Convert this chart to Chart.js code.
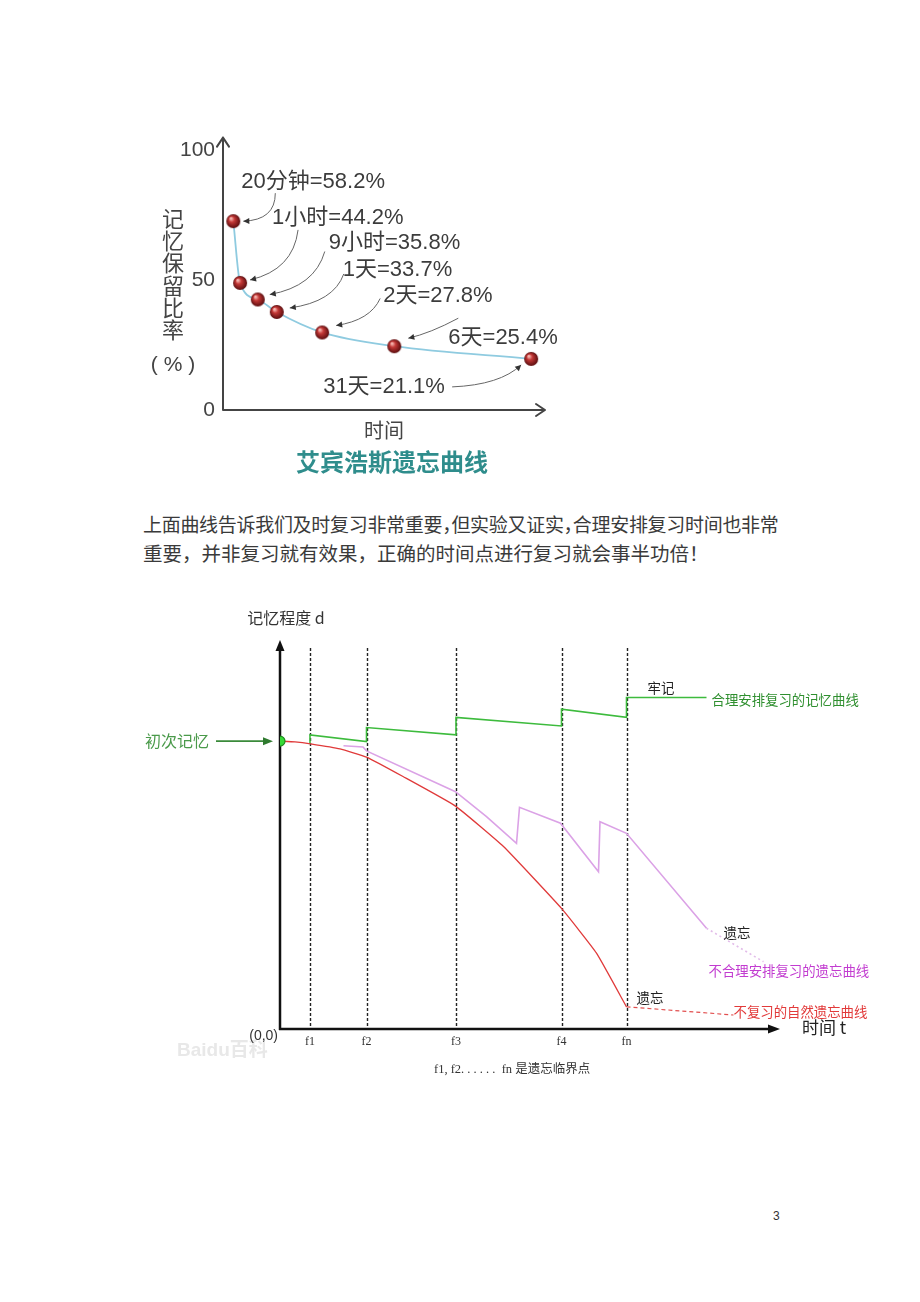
<!DOCTYPE html>
<html>
<head>
<meta charset="utf-8">
<script src="https://cdn.jsdelivr.net/npm/chart.js@4.4.1/dist/chart.umd.min.js"></script>
<style>
    body { margin: 0; background: #fff; }
    #page { position: relative; width: 920px; height: 1302px; overflow: hidden; font-family: 'Noto Sans CJK SC', sans-serif; color: #3a3a3a; }
    #curve1 { position: absolute; left: 130px; top: 130px; }
    #curve2 { position: absolute; left: 130px; top: 600px; }
    .line { position: absolute; white-space: nowrap; }
    .half { font-feature-settings: "halt"; }
</style>
</head>
<body>
<div id="page">
    <canvas id="curve1" width="440" height="360"></canvas>
    <div class="line" style="left:143px;top:513px;font-size:19px;line-height:22px;letter-spacing:-0.3px">上面曲线告诉我们及时复习非常重要<span class="half">，</span>但实验又证实<span class="half">，</span>合理安排复习时间也非常</div>
    <div class="line" style="left:143px;top:542px;font-size:19.5px;line-height:22px">重要，并非复习就有效果，正确的时间点进行复习就会事半功倍！</div>
    <canvas id="curve2" width="760" height="490"></canvas>
    <div class="line" style="left:773px;top:1209px;font-size:12px;font-family:'Liberation Sans',sans-serif;color:#333">3</div>
</div>
<script>
// --- Ebbinghaus curve (x = place on the time axis, 0-100; y = % as drawn) ---
const retentionLabels = ['20分钟=58.2%', '1小时=44.2%', '9小时=35.8%', '1天=33.7%', '2天=27.8%', '6天=25.4%', '31天=21.1%'];
const retentionX = [3.2, 5.3, 10.8, 16.7, 30.8, 53.2, 95.7];
const retentionY = [72.8, 49.0, 42.6, 37.8, 29.9, 24.6, 19.7];
const retentionTicks = [0, 50, 100];

// --- review chart (x = time, y = memory level d) ---
const reviewLabels = ['f1', 'f2', 'f3', 'f4', 'fn'];
const reviewX = [6.0, 17.3, 35.2, 56.3, 69.3];
const firstX = [0];
const firstY = [74.0];
const planX = [6.0, 6.0, 17.3, 17.3, 35.2, 35.2, 56.3, 56.3, 69.3, 69.3, 85.3];
const planY = [73.3, 75.6, 73.9, 77.5, 75.6, 80.1, 77.9, 82.2, 80.1, 85.2, 85.2];
const naturalX = [0, 3.0, 6.1, 12.0, 17.3, 24.6, 35.1, 44.7, 56.3, 63.3, 69.3];
const naturalY = [74.0, 73.8, 73.3, 72.0, 69.9, 64.9, 57.3, 46.9, 31.0, 19.5, 5.7];
const naturalTailX = [69.3, 90.7];
const naturalTailY = [5.7, 3.6];
const badX = [12.7, 16.6, 17.3, 35.1, 41.3, 47.3, 47.9, 56.1, 63.7, 64.0, 69.3, 85.3];
const badY = [72.8, 72.5, 71.5, 61.0, 54.6, 47.7, 57.0, 52.9, 40.4, 53.3, 50.3, 25.9];
const badTailX = [85.3, 96.7];
const badTailY = [25.9, 17.3];

// callout placement, px offsets from each point: label, arrow tail, curve control, arrow tip
const callouts = [
    { label: [8, -39], tail: [42, -28], ctrl: [42, -1], tip: [10, 0] },
    { label: [32, -65], tail: [58, -53], ctrl: [53, -13], tip: [10, -3] },
    { label: [71, -57], tail: [67, -48], ctrl: [57, -13], tip: [12, -5] },
    { label: [66, -42], tail: [67, -38], ctrl: [57, -10], tip: [13, -4] },
    { label: [61, -37], tail: [58, -34], ctrl: [48, -12], tip: [14, -7] },
    { label: [54, -8], tail: [64, -28], ctrl: [36, -13], tip: [14, -8] },
    { label: [-208, 28], tail: [-79, 28], ctrl: [-31, 26], tip: [-10, 6] }
];

const sansFont = "'Liberation Sans', 'Noto Sans CJK SC', sans-serif";
const cjkFont = "'Noto Sans CJK SC', sans-serif";

const pts = (xs, ys) => xs.map((x, i) => ({ x, y: ys[i] }));

function makeSphere(r) {
    const c = document.createElement('canvas');
    c.width = c.height = r * 2 + 2;
    const g = c.getContext('2d');
    const m = r + 1;
    const grad = g.createRadialGradient(m - r * 0.35, m - r * 0.4, r * 0.1, m, m, r);
    grad.addColorStop(0, '#f6b8b2');
    grad.addColorStop(0.35, '#c43836');
    grad.addColorStop(1, '#5a0c0e');
    g.fillStyle = grad;
    g.beginPath();
    g.arc(m, m, r, 0, Math.PI * 2);
    g.fill();
    return c;
}

function triangle(ctx, x, y, angle, len, half) {
    ctx.save();
    ctx.translate(x, y);
    ctx.rotate(angle);
    ctx.beginPath();
    ctx.moveTo(0, 0);
    ctx.lineTo(-len, -half);
    ctx.lineTo(-len, half);
    ctx.closePath();
    ctx.fill();
    ctx.restore();
}

function text(ctx, str, x, y, font, color, align) {
    ctx.font = font;
    ctx.fillStyle = color;
    ctx.textAlign = align || 'left';
    ctx.textBaseline = 'middle';
    ctx.fillText(str, x, y);
}

const ebbinghausDecor = {
    id: 'ebbinghausDecor',
    beforeDatasetsDraw(chart) {
        const { ctx, chartArea: a, scales: { x, y } } = chart;
        const x0 = x.getPixelForValue(0), y0 = y.getPixelForValue(0);
        ctx.save();
        ctx.strokeStyle = '#444';
        ctx.lineWidth = 2;
        ctx.lineCap = 'round';
        ctx.lineJoin = 'round';
        ctx.beginPath();
        ctx.moveTo(x0, y0); ctx.lineTo(x0, a.top - 13);
        ctx.moveTo(x0, y0); ctx.lineTo(a.right, y0);
        ctx.moveTo(x0 - 6, a.top - 4); ctx.lineTo(x0, a.top - 13); ctx.lineTo(x0 + 6, a.top - 4);
        ctx.moveTo(a.right - 9, y0 - 6); ctx.lineTo(a.right, y0); ctx.lineTo(a.right - 9, y0 + 6);
        ctx.stroke();
        ctx.restore();
    },
    afterDraw(chart) {
        const { ctx, chartArea: a } = chart;
        const meta = chart.getDatasetMeta(0);
        ctx.save();
        // axis titles
        const yTitle = '记忆保留比率';
        for (let i = 0; i < yTitle.length; i++) {
            text(ctx, yTitle[i], a.left - 50, a.top + 68 + i * 22.2, '22px ' + cjkFont, '#444', 'center');
        }
        text(ctx, '( % )', a.left - 50, a.top + 215, '21px ' + sansFont, '#444', 'center');
        text(ctx, '时间', (a.left + a.right) / 2, a.bottom + 20, '20px ' + cjkFont, '#444', 'center');
        text(ctx, '艾宾浩斯遗忘曲线', (a.left + a.right) / 2 + 8, a.bottom + 52, 'bold 24px ' + cjkFont, '#2f8d8c', 'center');

        // callouts
        meta.data.forEach((pt, i) => {
            const c = callouts[i];
            text(ctx, retentionLabels[i], pt.x + c.label[0], pt.y + c.label[1], '22px ' + sansFont, '#3c3c3c');
            const tx = pt.x + c.tip[0], ty = pt.y + c.tip[1];
            const cx = pt.x + c.ctrl[0], cy = pt.y + c.ctrl[1];
            ctx.strokeStyle = '#666';
            ctx.fillStyle = '#333';
            ctx.lineWidth = 1;
            ctx.beginPath();
            ctx.moveTo(pt.x + c.tail[0], pt.y + c.tail[1]);
            ctx.quadraticCurveTo(cx, cy, tx, ty);
            ctx.stroke();
            triangle(ctx, tx, ty, Math.atan2(ty - cy, tx - cx), 6, 3);
        });
        ctx.restore();
    }
};

new Chart(document.getElementById('curve1'), {
    type: 'line',
    data: {
        datasets: [{
            data: pts(retentionX, retentionY),
            borderColor: '#8fcbe0',
            borderWidth: 1.8,
            cubicInterpolationMode: 'monotone',
            pointStyle: makeSphere(7),
            clip: false
        }]
    },
    options: {
        responsive: false,
        animation: false,
        events: [],
        layout: { padding: { left: 0, top: 20, right: 25, bottom: 0 } },
        plugins: { legend: { display: false }, tooltip: { enabled: false } },
        scales: {
            x: {
                type: 'linear', min: 0, max: 100,
                grid: { display: false, drawTicks: false },
                border: { display: false },
                ticks: { display: false },
                afterFit(s) { s.height = 80; }
            },
            y: {
                type: 'linear', min: 0, max: 100,
                afterBuildTicks(s) { s.ticks = retentionTicks.map(v => ({ value: v })); },
                grid: { display: false, drawTicks: false },
                border: { display: false },
                ticks: { padding: 8, color: '#444', font: { family: sansFont, size: 21 } },
                afterFit(s) { s.width = 93; }
            }
        }
    },
    plugins: [ebbinghausDecor]
});

const reviewDecor = {
    id: 'reviewDecor',
    beforeDatasetsDraw(chart) {
        const { ctx, chartArea: a, scales: { x, y } } = chart;
        const x0 = x.getPixelForValue(0), y0 = y.getPixelForValue(0);
        ctx.save();
        // dotted lines at each review point
        ctx.strokeStyle = '#222';
        ctx.lineWidth = 1.4;
        ctx.setLineDash([3, 2]);
        reviewX.forEach(v => {
            const px = Math.round(x.getPixelForValue(v)) + 0.5;
            ctx.beginPath();
            ctx.moveTo(px, a.top + 8);
            ctx.lineTo(px, y0);
            ctx.stroke();
        });
        ctx.setLineDash([]);
        // axes
        ctx.strokeStyle = '#111';
        ctx.fillStyle = '#111';
        ctx.lineWidth = 2.5;
        ctx.beginPath();
        ctx.moveTo(x0, y0 + 1); ctx.lineTo(x0, a.top + 8);
        ctx.moveTo(x0 - 1, y0); ctx.lineTo(a.right - 8, y0);
        ctx.stroke();
        triangle(ctx, x0, a.top, -Math.PI / 2, 11, 4.5);
        triangle(ctx, a.right, y0, 0, 12, 4.5);
        ctx.restore();
    },
    afterDatasetsDraw(chart) {
        const { ctx, chartArea: a, scales: { x, y } } = chart;
        const x0 = x.getPixelForValue(0), y0 = y.getPixelForValue(0);
        const at = (xs, ys, i) => [x.getPixelForValue(xs[i]), y.getPixelForValue(ys[i])];
        const small = '13.4px ' + cjkFont;
        ctx.save();
        text(ctx, '记忆程度 d', x0 + 6, a.top - 22, '16px ' + cjkFont, '#333', 'center');
        text(ctx, 'Baidu百科', x0 - 103, y0 + 22, 'bold 19px ' + sansFont, '#e8e8e8');
        text(ctx, '(0,0)', x0 - 2, y0 + 7, '14px ' + sansFont, '#333', 'right');
        text(ctx, '时间 t', a.right + 22, y0 - 1, '17px ' + cjkFont, '#222');

        // first memory arrow
        const [fx, fy] = at(firstX, firstY, 0);
        text(ctx, '初次记忆', fx - 71, fy, '16px ' + cjkFont, '#4a9a4a', 'right');
        ctx.strokeStyle = '#3a8a3a';
        ctx.fillStyle = '#2f7a2f';
        ctx.lineWidth = 1.6;
        ctx.beginPath();
        ctx.moveTo(fx - 64, fy);
        ctx.lineTo(fx - 14, fy);
        ctx.stroke();
        triangle(ctx, fx - 7, fy, 0, 10, 4);

        // curve labels
        const [gx, gy] = at(planX, planY, planX.length - 2);
        text(ctx, '牢记', gx + 21, gy - 10, small, '#222');
        const [ex, ey] = at(planX, planY, planX.length - 1);
        text(ctx, '合理安排复习的记忆曲线', ex + 5, ey + 2, small, '#2f8f2f');
        const [bx, by] = at(badX, badY, badX.length - 1);
        text(ctx, '遗忘', bx + 17, by + 5, small, '#222');
        const [btx, bty] = at(badTailX, badTailY, 1);
        text(ctx, '不合理安排复习的遗忘曲线', btx - 55, bty + 9, small, '#c23cd0');
        const [nx, ny] = at(naturalX, naturalY, naturalX.length - 1);
        text(ctx, '遗忘', nx + 10, ny - 9, small, '#222');
        const [ntx, nty] = at(naturalTailX, naturalTailY, 1);
        text(ctx, '不复习的自然遗忘曲线', ntx, nty - 3, small, '#e23a3a');

        // footnote
        text(ctx, 'f1, f2. . . . . .  fn 是遗忘临界点', x.getPixelForValue(reviewX[2]) - 22, y0 + 41,
            "12.5px 'Liberation Serif', 'Noto Sans CJK SC', serif", '#333');
        ctx.restore();
    }
};

new Chart(document.getElementById('curve2'), {
    type: 'line',
    data: {
        datasets: [
            { data: pts(firstX, firstY), showLine: false, pointRadius: 5, pointBackgroundColor: '#36d936', pointBorderColor: '#1f8a1f', pointBorderWidth: 1.2 },
            { data: pts(naturalX, naturalY), borderColor: '#e03a3a', borderWidth: 1.3, tension: 0.12, pointRadius: 0 },
            { data: pts(naturalTailX, naturalTailY), borderColor: '#e25050', borderWidth: 1.2, borderDash: [4, 3], pointRadius: 0 },
            { data: pts(planX, planY), borderColor: '#3dbb3d', borderWidth: 1.6, tension: 0, pointRadius: 0 },
            { data: pts(badX, badY), borderColor: '#dba2e6', borderWidth: 1.6, tension: 0, pointRadius: 0 },
            { data: pts(badTailX, badTailY), borderColor: '#e2bce9', borderWidth: 1.6, borderDash: [2, 3], pointRadius: 0 }
        ]
    },
    options: {
        responsive: false,
        animation: false,
        events: [],
        layout: { padding: { left: 0, top: 40, right: 110, bottom: 0 } },
        plugins: { legend: { display: false }, tooltip: { enabled: false } },
        scales: {
            x: {
                type: 'linear', min: 0, max: 100,
                afterBuildTicks(s) { s.ticks = reviewX.map(v => ({ value: v })); },
                grid: { display: false, drawTicks: false },
                border: { display: false },
                ticks: {
                    padding: 6, autoSkip: false, maxRotation: 0, color: '#333',
                    font: { family: "'Liberation Serif', serif", size: 12 },
                    callback: (v, i) => reviewLabels[i]
                },
                afterFit(s) { s.height = 61; }
            },
            y: {
                type: 'linear', min: 0, max: 100,
                grid: { display: false, drawTicks: false },
                border: { display: false },
                ticks: { display: false },
                afterFit(s) { s.width = 150; }
            }
        }
    },
    plugins: [reviewDecor]
});
</script>
</body>
</html>
